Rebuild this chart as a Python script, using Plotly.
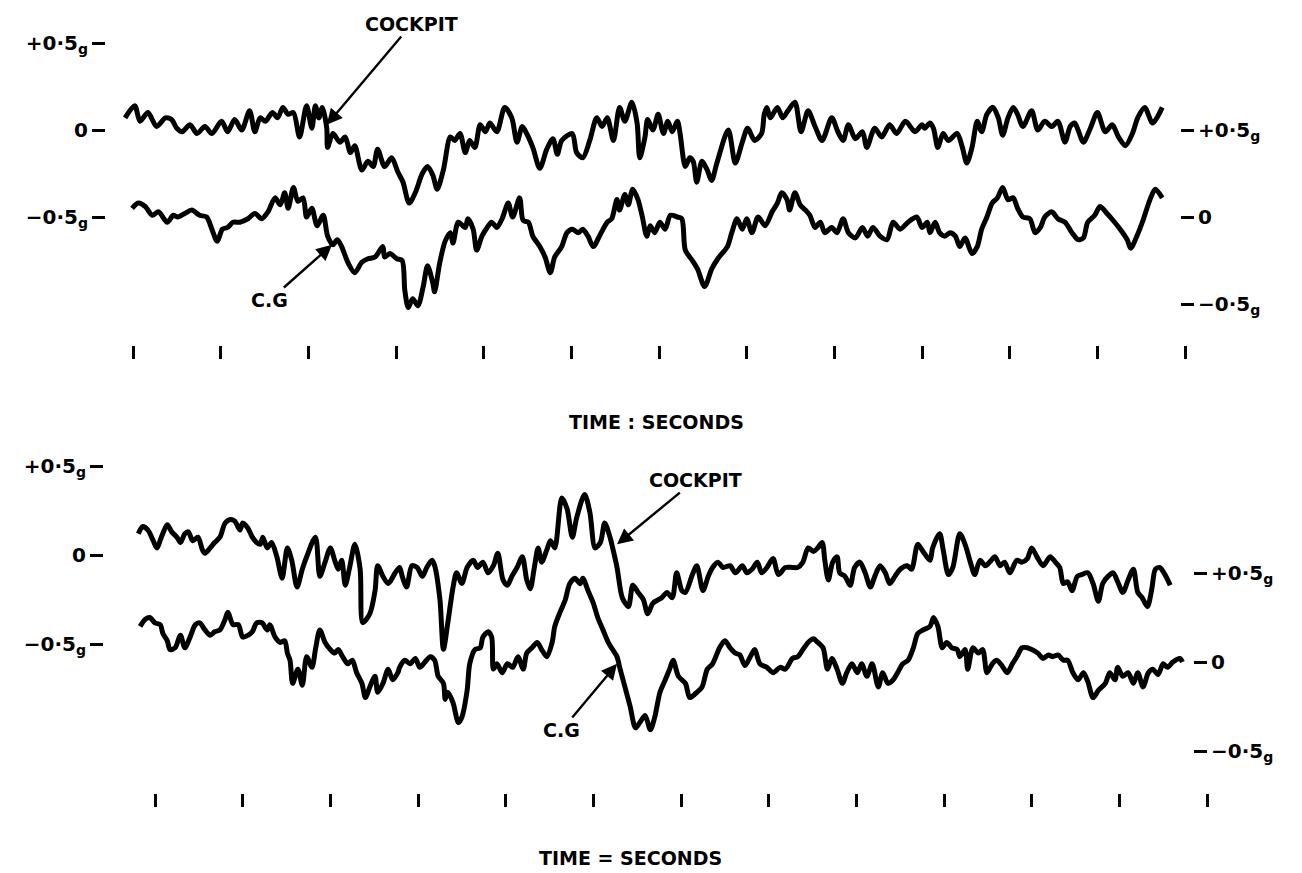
import plotly.graph_objects as go

# ---------------- data (time in seconds, acceleration in g) ----------------
# Upper record
top_cockpit_t = [-0.09,0.02,0.08,0.17,0.27,0.37,0.44,0.50,0.56,0.65,0.73,0.82,0.90,1.01,1.08,1.16,1.24,1.33,1.39,1.45,1.51,1.59,1.65,1.71,1.77,1.83,1.90,1.98,2.04,2.08,2.12,2.16,2.21,2.22,2.28,2.36,2.42,2.48,2.53,2.61,2.68,2.74,2.79,2.87,2.95,3.02,3.08,3.15,3.22,3.30,3.36,3.42,3.47,3.54,3.62,3.67,3.73,3.79,3.84,3.90,3.96,4.02,4.07,4.15,4.24,4.32,4.38,4.44,4.49,4.56,4.64,4.72,4.79,4.84,4.89,5.01,5.06,5.13,5.21,5.29,5.35,5.41,5.48,5.55,5.61,5.69,5.75,5.78,5.84,5.87,5.93,5.99,6.05,6.10,6.15,6.21,6.24,6.30,6.35,6.39,6.43,6.49,6.55,6.60,6.66,6.79,6.87,6.95,7.01,7.09,7.17,7.20,7.23,7.27,7.35,7.41,7.47,7.55,7.62,7.70,7.78,7.86,7.97,8.04,8.10,8.16,8.24,8.32,8.37,8.46,8.54,8.63,8.71,8.81,8.92,9.00,9.03,9.09,9.13,9.18,9.24,9.30,9.40,9.46,9.51,9.57,9.63,9.68,9.74,9.81,9.87,9.92,9.98,10.04,10.09,10.15,10.25,10.32,10.40,10.48,10.55,10.63,10.69,10.74,10.78,10.84,10.92,11.00,11.09,11.17,11.24,11.32,11.40,11.46,11.54,11.63,11.74]
top_cockpit_g = [0.07,0.14,0.05,0.10,0.02,0.07,0.06,0.01,-0.01,0.03,-0.02,0.02,-0.02,0.05,-0.01,0.06,0.00,0.11,-0.01,0.07,0.05,0.10,0.07,0.13,0.09,0.10,-0.04,0.14,0.01,0.14,0.07,0.13,0.01,-0.10,-0.02,-0.07,-0.04,-0.13,-0.09,-0.23,-0.18,-0.21,-0.11,-0.21,-0.16,-0.24,-0.30,-0.42,-0.36,-0.25,-0.21,-0.26,-0.34,-0.23,-0.04,-0.06,-0.02,-0.13,-0.06,-0.10,0.03,-0.01,0.04,-0.01,0.13,0.07,-0.07,0.02,-0.02,-0.10,-0.22,-0.11,-0.05,-0.14,-0.06,-0.02,-0.13,-0.16,-0.06,0.07,0.02,0.07,-0.06,0.13,0.05,0.16,0.04,-0.16,-0.04,0.06,0.00,0.09,-0.02,0.05,-0.01,0.05,-0.02,-0.21,-0.16,-0.18,-0.30,-0.18,-0.23,-0.29,-0.19,0.00,-0.19,-0.07,0.01,-0.06,-0.02,0.09,0.13,0.07,0.13,0.07,0.11,0.16,-0.01,0.11,0.02,-0.06,0.07,-0.01,-0.06,0.03,-0.05,-0.01,-0.10,0.01,-0.04,0.03,-0.02,0.05,-0.01,0.03,0.01,0.04,0.01,-0.10,-0.02,-0.06,-0.02,-0.10,-0.19,-0.10,0.05,-0.01,0.09,0.13,0.07,-0.03,0.07,0.13,0.09,0.02,0.11,0.00,0.05,0.02,0.05,-0.07,0.02,0.04,0.00,-0.07,0.01,0.10,-0.01,0.03,-0.04,-0.09,-0.02,0.07,0.13,0.04,0.13]

top_cg_t = [-0.01,0.06,0.14,0.22,0.29,0.39,0.46,0.51,0.59,0.67,0.76,0.84,0.90,0.96,1.02,1.08,1.14,1.22,1.31,1.39,1.47,1.54,1.62,1.68,1.73,1.77,1.83,1.88,1.94,1.98,2.04,2.10,2.17,2.22,2.28,2.33,2.38,2.45,2.53,2.61,2.68,2.76,2.85,2.87,2.93,3.01,3.07,3.10,3.14,3.19,3.25,3.31,3.36,3.42,3.44,3.50,3.56,3.62,3.65,3.71,3.79,3.82,3.88,3.92,3.98,4.04,4.09,4.15,4.21,4.28,4.33,4.41,4.45,4.51,4.56,4.64,4.70,4.76,4.81,4.89,4.95,5.01,5.08,5.13,5.19,5.25,5.33,5.41,5.46,5.52,5.55,5.61,5.65,5.70,5.76,5.81,5.86,5.90,5.95,6.01,6.07,6.13,6.21,6.26,6.30,6.38,6.44,6.52,6.60,6.67,6.78,6.83,6.89,6.95,7.00,7.06,7.13,7.21,7.29,7.35,7.40,7.46,7.49,7.55,7.61,7.67,7.72,7.78,7.84,7.89,7.97,8.03,8.10,8.16,8.24,8.32,8.38,8.44,8.52,8.60,8.67,8.75,8.84,8.94,9.00,9.06,9.09,9.15,9.20,9.26,9.32,9.38,9.43,9.49,9.57,9.63,9.68,9.74,9.80,9.86,9.92,9.98,10.04,10.09,10.15,10.23,10.29,10.35,10.40,10.48,10.55,10.63,10.71,10.78,10.84,10.89,10.97,11.03,11.11,11.18,11.26,11.34,11.38,11.45,11.52,11.60,11.66,11.74]
top_cg_g = [0.05,0.08,0.06,0.01,0.03,-0.03,0.01,0.00,0.02,0.04,0.01,0.00,-0.07,-0.14,-0.07,-0.06,-0.03,-0.03,-0.01,0.02,-0.01,0.03,0.11,0.07,0.14,0.05,0.17,0.09,0.11,0.00,0.05,-0.05,0.01,-0.11,-0.16,-0.13,-0.17,-0.26,-0.32,-0.26,-0.24,-0.23,-0.17,-0.23,-0.21,-0.24,-0.25,-0.42,-0.52,-0.47,-0.51,-0.40,-0.28,-0.38,-0.43,-0.26,-0.14,-0.09,-0.15,-0.03,-0.06,-0.01,-0.07,-0.19,-0.11,-0.06,-0.03,-0.06,-0.01,0.08,0.00,0.11,-0.02,-0.03,-0.11,-0.17,-0.23,-0.32,-0.23,-0.17,-0.09,-0.07,-0.09,-0.07,-0.11,-0.17,-0.10,-0.03,-0.01,0.10,0.04,0.13,0.07,0.16,0.10,0.00,-0.11,-0.05,-0.09,-0.03,-0.07,0.01,0.00,-0.01,-0.19,-0.25,-0.30,-0.40,-0.30,-0.24,-0.17,-0.09,-0.01,-0.07,-0.01,-0.09,0.00,-0.05,0.03,0.08,0.14,0.10,0.04,0.14,0.07,0.04,0.01,-0.06,-0.03,-0.09,-0.06,-0.09,-0.01,-0.09,-0.12,-0.06,-0.11,-0.06,-0.11,-0.13,-0.03,-0.07,-0.03,0.00,-0.06,-0.03,-0.09,-0.03,-0.09,-0.11,-0.09,-0.11,-0.17,-0.12,-0.21,-0.17,-0.07,0.00,0.08,0.11,0.17,0.10,0.11,0.05,0.00,-0.01,-0.09,-0.06,0.00,0.03,-0.01,-0.03,-0.09,-0.13,-0.12,-0.03,0.01,0.06,0.02,-0.02,-0.07,-0.13,-0.18,-0.11,-0.02,0.10,0.16,0.11]

# Lower record
bot_cockpit_t = [-0.19,-0.14,-0.08,-0.02,0.02,0.08,0.14,0.19,0.25,0.29,0.34,0.38,0.43,0.49,0.54,0.57,0.63,0.68,0.74,0.80,0.86,0.91,0.97,1.00,1.06,1.11,1.16,1.20,1.23,1.28,1.33,1.39,1.45,1.51,1.56,1.62,1.68,1.73,1.83,1.88,1.94,2.00,2.05,2.09,2.13,2.17,2.22,2.28,2.34,2.37,2.45,2.51,2.54,2.60,2.66,2.74,2.79,2.82,2.87,2.93,2.99,3.05,3.10,3.16,3.19,3.25,3.29,3.34,3.40,3.44,3.50,3.56,3.63,3.68,3.74,3.80,3.86,3.91,3.97,4.02,4.07,4.13,4.19,4.24,4.28,4.33,4.37,4.41,4.47,4.51,4.56,4.64,4.70,4.76,4.81,4.90,4.96,5.02,5.08,5.13,5.19,5.22,5.27,5.33,5.40,5.45,5.51,5.57,5.62,5.68,5.78,5.84,5.90,5.95,6.01,6.05,6.13,6.18,6.25,6.31,6.36,6.42,6.48,6.56,6.62,6.70,6.75,6.81,6.87,6.92,6.98,7.05,7.11,7.19,7.27,7.33,7.39,7.45,7.51,7.56,7.61,7.64,7.68,7.73,7.78,7.81,7.87,7.93,7.98,8.04,8.10,8.16,8.21,8.27,8.33,8.38,8.44,8.50,8.58,8.63,8.70,8.76,8.84,8.87,8.95,8.99,9.05,9.10,9.18,9.24,9.30,9.35,9.41,9.47,9.52,9.58,9.64,9.69,9.75,9.83,9.89,9.95,10.00,10.06,10.13,10.21,10.27,10.32,10.36,10.41,10.46,10.52,10.57,10.64,10.70,10.76,10.81,10.87,10.93,10.98,11.04,11.10,11.16,11.21,11.26,11.32,11.37,11.41,11.46,11.52,11.58]
bot_cockpit_g = [0.12,0.16,0.14,0.08,0.04,0.11,0.17,0.13,0.10,0.07,0.12,0.13,0.08,0.10,0.03,0.01,0.04,0.07,0.10,0.18,0.20,0.19,0.14,0.18,0.15,0.10,0.07,0.06,0.10,0.04,0.07,-0.01,-0.13,0.04,-0.03,-0.18,-0.08,-0.01,0.10,-0.12,-0.04,0.04,-0.03,-0.08,-0.03,-0.17,-0.07,0.06,-0.08,-0.38,-0.33,-0.20,-0.06,-0.12,-0.16,-0.10,-0.07,-0.12,-0.18,-0.06,-0.07,-0.12,-0.07,-0.03,-0.06,-0.25,-0.53,-0.38,-0.18,-0.10,-0.16,-0.07,-0.03,-0.07,-0.04,-0.10,-0.06,0.01,-0.14,-0.17,-0.12,-0.07,-0.01,-0.14,-0.19,-0.06,0.04,-0.04,0.03,0.08,0.04,0.32,0.26,0.10,0.21,0.34,0.24,0.04,0.07,0.18,0.10,0.04,-0.07,-0.24,-0.29,-0.17,-0.21,-0.25,-0.33,-0.27,-0.24,-0.21,-0.24,-0.10,-0.20,-0.21,-0.11,-0.06,-0.20,-0.12,-0.07,-0.04,-0.07,-0.06,-0.10,-0.06,-0.10,-0.08,-0.04,-0.10,-0.07,-0.02,-0.11,-0.07,-0.07,-0.07,-0.04,0.04,0.02,0.04,0.07,-0.03,-0.14,-0.04,-0.01,-0.10,-0.12,-0.17,-0.07,-0.04,-0.10,-0.18,-0.12,-0.06,-0.10,-0.16,-0.12,-0.08,-0.06,-0.08,0.06,0.02,-0.03,0.04,0.12,0.03,-0.11,-0.07,0.12,0.06,-0.04,-0.11,-0.03,-0.06,-0.04,-0.01,-0.06,-0.04,-0.10,-0.03,-0.04,-0.02,0.04,-0.01,-0.06,-0.01,-0.04,-0.07,-0.16,-0.15,-0.20,-0.12,-0.11,-0.10,-0.16,-0.26,-0.16,-0.12,-0.10,-0.15,-0.21,-0.14,-0.08,-0.21,-0.24,-0.29,-0.19,-0.08,-0.07,-0.11,-0.17]

bot_cg_t = [-0.17,-0.11,-0.06,0.00,0.06,0.09,0.14,0.17,0.23,0.29,0.34,0.40,0.46,0.51,0.57,0.63,0.68,0.74,0.80,0.83,0.89,0.95,1.00,1.06,1.11,1.16,1.22,1.28,1.31,1.37,1.43,1.48,1.51,1.54,1.57,1.63,1.68,1.73,1.79,1.83,1.88,1.94,2.00,2.05,2.09,2.14,2.20,2.25,2.30,2.36,2.40,2.45,2.51,2.54,2.60,2.66,2.71,2.77,2.79,2.85,2.91,2.97,3.02,3.08,3.14,3.19,3.23,3.29,3.31,3.34,3.40,3.46,3.50,3.56,3.59,3.65,3.71,3.74,3.80,3.84,3.86,3.90,3.96,4.02,4.08,4.14,4.20,4.24,4.30,4.36,4.41,4.47,4.53,4.56,4.62,4.68,4.73,4.79,4.85,4.88,4.94,5.00,5.05,5.11,5.17,5.22,5.27,5.30,5.36,5.42,5.48,5.53,5.59,5.65,5.70,5.76,5.82,5.87,5.91,5.97,6.05,6.10,6.18,6.24,6.30,6.36,6.44,6.50,6.56,6.62,6.67,6.73,6.79,6.84,6.90,6.98,7.05,7.13,7.19,7.27,7.33,7.39,7.45,7.51,7.56,7.62,7.67,7.72,7.78,7.84,7.89,7.95,8.01,8.06,8.12,8.18,8.25,8.30,8.36,8.42,8.47,8.53,8.59,8.65,8.70,8.76,8.84,8.88,8.93,8.98,9.03,9.09,9.15,9.18,9.24,9.27,9.33,9.39,9.44,9.49,9.55,9.60,9.66,9.72,9.78,9.83,9.89,9.95,10.00,10.07,10.13,10.19,10.24,10.30,10.36,10.41,10.47,10.53,10.59,10.64,10.70,10.76,10.84,10.89,10.95,10.98,11.04,11.10,11.16,11.21,11.27,11.33,11.38,11.44,11.50,11.55,11.61,11.69,11.72]
bot_cg_g = [0.20,0.24,0.25,0.22,0.21,0.16,0.12,0.07,0.08,0.15,0.08,0.14,0.21,0.22,0.18,0.15,0.17,0.18,0.24,0.28,0.21,0.21,0.14,0.15,0.17,0.22,0.22,0.18,0.21,0.14,0.11,0.12,0.05,0.01,-0.12,-0.04,-0.13,0.03,-0.03,0.07,0.18,0.11,0.07,0.05,0.07,0.03,-0.01,0.01,-0.06,-0.12,-0.20,-0.14,-0.08,-0.17,-0.12,-0.04,-0.10,-0.06,-0.03,0.01,-0.01,0.02,-0.03,0.00,0.03,0.01,-0.08,-0.12,-0.21,-0.17,-0.23,-0.34,-0.31,-0.16,-0.01,0.07,0.08,0.14,0.17,0.14,-0.04,-0.01,-0.06,-0.01,-0.03,0.03,-0.04,0.05,0.08,0.11,0.07,0.03,0.11,0.20,0.28,0.35,0.44,0.47,0.44,0.47,0.40,0.33,0.25,0.18,0.11,0.07,0.03,-0.03,-0.14,-0.25,-0.37,-0.34,-0.30,-0.38,-0.31,-0.17,-0.10,-0.04,0.01,-0.08,-0.12,-0.20,-0.17,-0.14,-0.04,-0.01,0.08,0.12,0.08,0.05,0.04,-0.02,0.03,0.07,-0.01,-0.03,-0.06,-0.03,-0.04,0.02,0.03,0.07,0.11,0.13,0.11,0.08,-0.04,0.02,-0.04,-0.12,-0.06,-0.01,-0.06,-0.01,-0.08,-0.01,-0.14,-0.06,-0.12,-0.10,-0.06,-0.01,0.01,0.08,0.16,0.18,0.20,0.25,0.20,0.08,0.11,0.08,0.07,0.03,0.07,-0.04,0.08,0.05,0.07,-0.06,-0.01,0.01,-0.02,-0.06,-0.01,0.03,0.08,0.08,0.07,0.05,0.02,0.04,0.03,0.04,0.01,0.01,-0.06,-0.10,-0.06,-0.11,-0.20,-0.16,-0.12,-0.06,-0.10,-0.03,-0.08,-0.06,-0.12,-0.06,-0.14,-0.06,-0.04,-0.07,-0.01,-0.03,0.00,0.02,0.00]

time_ticks = list(range(13))
g_ticks = [0.5, 0, -0.5]
left_labels = ["+0·5<sub>g</sub>", "0", "−0·5<sub>g</sub>"]
right_labels = ["+0·5<sub>g</sub>", "0", "−0·5<sub>g</sub>"]

# ---------------- figure ----------------
W, H = 1302, 873
FONT = "DejaVu Sans"
line = dict(color="black", width=5, shape="spline", smoothing=0.8)

fig = go.Figure()
fig.add_trace(go.Scatter(x=top_cockpit_t, y=top_cockpit_g, mode="lines", line=line, xaxis="x", yaxis="y", name="Cockpit"))
fig.add_trace(go.Scatter(x=top_cg_t, y=top_cg_g, mode="lines", line=line, xaxis="x", yaxis="y2", name="C.G"))
fig.add_trace(go.Scatter(x=bot_cockpit_t, y=bot_cockpit_g, mode="lines", line=line, xaxis="x2", yaxis="y3", name="Cockpit"))
fig.add_trace(go.Scatter(x=bot_cg_t, y=bot_cg_g, mode="lines", line=line, xaxis="x2", yaxis="y4", name="C.G"))

tick_font = dict(family=FONT, size=20, color="black", weight="bold")
xcommon = dict(domain=[0, 1], tickvals=time_ticks, ticks="outside", ticklen=13, tickwidth=3,
               tickcolor="black", showticklabels=False, showline=False, showgrid=False, zeroline=False)
ycommon = dict(tickvals=g_ticks, ticks="outside", ticklen=13, tickwidth=2.5, tickcolor="black",
               showline=False, showgrid=False, zeroline=False, anchor="free", tickfont=tick_font)

fig.update_layout(
    width=W, height=H, margin=dict(l=0, r=0, t=0, b=0),
    paper_bgcolor="white", plot_bgcolor="white", showlegend=False,
    font=dict(family=FONT, color="black"),
    xaxis=dict(xcommon, range=[-1.517, 13.334], anchor="y"),
    xaxis2=dict(xcommon, range=[-1.768, 13.083], anchor="y3"),
    yaxis=dict(ycommon, domain=[0.6048, 1.0], range=[-1.2356, 0.7471], side="left",
               position=105 / W, ticktext=left_labels),
    yaxis2=dict(ycommon, overlaying="y", range=[-0.7356, 1.2471], side="right",
                position=1180 / W, ticktext=right_labels),
    yaxis3=dict(ycommon, domain=[0.0916, 0.4960], range=[-1.3371, 0.6461], side="left",
                position=103 / W, ticktext=left_labels),
    yaxis4=dict(ycommon, overlaying="y3", range=[-0.7360, 1.2472], side="right",
                position=1193 / W, ticktext=right_labels),
)

tf = dict(family=FONT, size=19, color="black", weight="bold")
arrow = dict(showarrow=True, arrowhead=2, arrowsize=1.3, arrowwidth=2.4, arrowcolor="black", font=tf)
# labelled arrows: head on the trace, label at the tail (data coordinates)
fig.add_annotation(arrow, text="COCKPIT", x=2.21, y=0.03, xref="x", yref="y",
                   ax=3.18, ay=0.609, axref="x", ayref="y")
fig.add_annotation(arrow, text="C.G", x=2.27, y=-0.16, xref="x", yref="y2",
                   ax=1.56, ay=-0.477, axref="x", ayref="y2")
fig.add_annotation(arrow, text="COCKPIT", x=5.27, y=0.06, xref="x2", yref="y3",
                   ax=6.16, ay=0.421, axref="x2", ayref="y3")
fig.add_annotation(arrow, text="C.G", x=5.27, y=-0.01, xref="x2", yref="y4",
                   ax=4.64, ay=-0.382, axref="x2", ayref="y4")

# axis titles
for txt, px, py in [("TIME : SECONDS", 656, 422), ("TIME = SECONDS", 630, 858)]:
    fig.add_annotation(text=txt, x=px / W, y=1 - py / H, xref="paper", yref="paper",
                       showarrow=False, font=tf, xanchor="center", yanchor="middle")

fig.write_html("out.html", config={"displayModeBar": False},
               post_script="document.body.style.margin='0';")
